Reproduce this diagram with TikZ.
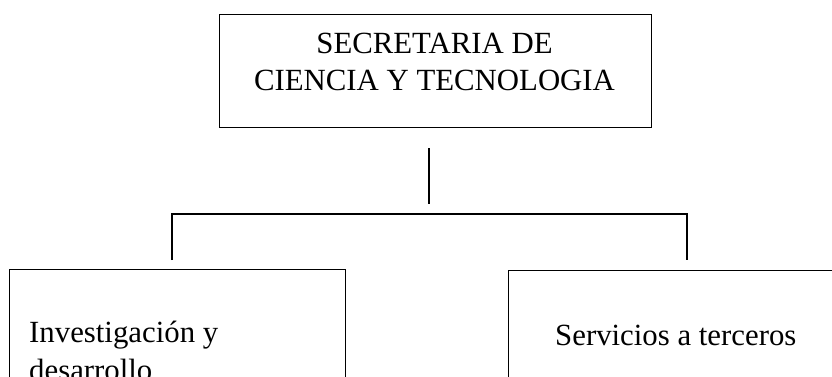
\documentclass[tikz,border=0pt]{standalone}
\usepackage{fontspec}
\setmainfont{Liberation Serif}
\begin{document}
\begin{tikzpicture}[x=1pt,y=-1pt,
  box/.style={draw=black,line width=1.4pt,inner sep=0pt,anchor=north west},
  lbl/.style={inner sep=0pt,anchor=base west,font=\fontsize{30.8}{37}\selectfont},
  clbl/.style={inner sep=0pt,anchor=base,font=\fontsize{30.8}{37}\selectfont},
  conn/.style={draw=black,line width=1.4pt}]
\useasboundingbox (0,0) rectangle (832,376);
\clip (0,0) rectangle (832,376);
% boxes
\node[box,minimum width=432pt,minimum height=113pt] (top) at (219,14) {};
\node[box,minimum width=336pt,minimum height=160pt] (left) at (9,269) {};
\node[box,minimum width=360pt,minimum height=160pt] (right) at (508,270) {};
% texts
\node[clbl] (t1) at (434.5,53) {SECRETARIA DE};
\node[clbl] (t2) at (434.5,90) {CIENCIA Y TECNOLOGIA};
\node[lbl] (l1) at (29,342) {Investigación y};
\node[lbl] (l2) at (29,380) {desarrollo};
\node[lbl] (r1) at (555,345) {Servicios a terceros};
% connector coordinates
\coordinate (vtop) at (429,148);
\coordinate (vbot) at (429,204);
\coordinate (hl) at (172,214);
\coordinate (hr) at (687,214);
\coordinate (tl) at (172,260);
\coordinate (tr) at (687,260);
\draw[conn] (vtop) -- (vbot);
\draw[conn] (tl) -- (hl) -- (hr) -- (tr);
\end{tikzpicture}
\end{document}
